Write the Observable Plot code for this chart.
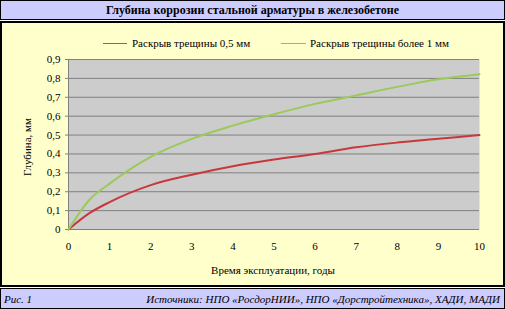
<!DOCTYPE html>
<html>
<head>
<meta charset="utf-8">
<script src="https://cdn.jsdelivr.net/npm/d3@7"></script>
<script src="https://cdn.jsdelivr.net/npm/@observablehq/plot@0.6"></script>
<style>
  html, body { margin: 0; padding: 0; background: #ffffff; }
  body { width: 505px; height: 309px; position: relative; overflow: hidden; font-family: "Liberation Serif", "Times New Roman", serif; }
  #title { position: absolute; left: 0; top: 0; width: 503px; height: 18px; border: 1px solid #000; background: #ccccff;
           font-weight: bold; font-size: 12px; text-align: center; line-height: 19px; color: #000; }
  #main { position: absolute; left: 0; top: 21px; width: 501px; height: 262px; border: 2px solid #000; background: #ffffcc; }
  #footer { position: absolute; left: 0; top: 288px; width: 503px; height: 19px; border: 1px solid #000; background: #ccccff;
            font-style: italic; font-size: 11px; line-height: 20px; color: #000; }
  #footer .l { position: absolute; left: 3px; top: 0; }
  #footer .r { position: absolute; right: 4px; top: 0; }
  #chart { position: absolute; left: 0; top: 0; }
  #chart svg, #chart svg text { font-family: "Liberation Serif", "Times New Roman", serif !important; font-size: 11px; }
  .leg { position: absolute; top: 13px; font-size: 11px; line-height: 14px; white-space: nowrap; color: #000; }
  .sw { position: absolute; height: 0; top: 20px; border-top: 1px solid; }
  #ytitle { position: absolute; left: 25px; top: 124px; transform: translate(-50%, -50%) rotate(-90deg); font-size: 11px; white-space: nowrap; }
  #xtitle { position: absolute; left: 271px; top: 247px; transform: translate(-50%, -50%); font-size: 11px; white-space: nowrap; }
</style>
</head>
<body>
<div id="title">Глубина коррозии стальной арматуры в железобетоне</div>
<div id="main">
  <div id="chart"></div>
  <div class="sw" style="left:101px;width:24px;border-color:#c0504d"></div>
  <div class="leg" style="left:130px">Раскрыв трещины 0,5 мм</div>
  <div class="sw" style="left:279px;width:25px;border-color:#9bbb59"></div>
  <div class="leg" style="left:308px">Раскрыв трещины более 1 мм</div>
  <div id="ytitle">Глубина, мм</div>
  <div id="xtitle">Время эксплуатации, годы</div>
</div>
<div id="footer"><span class="l">Рис. 1</span><span class="r">Источники: НПО «РосдорНИИ», НПО «Дорстройтехника», ХАДИ, МАДИ</span></div>
<script>
const years = [0, 0.5, 1, 2, 3, 4, 5, 6, 7, 8, 9, 10];
const crack05 = [0, 0.085, 0.145, 0.235, 0.29, 0.335, 0.37, 0.40, 0.435, 0.46, 0.48, 0.50];
const crack1 = [0, 0.155, 0.243, 0.385, 0.48, 0.55, 0.61, 0.665, 0.71, 0.755, 0.795, 0.822];
const seriesNames = ["Раскрыв трещины 0,5 мм", "Раскрыв трещины более 1 мм"];
const seriesColors = ["#c8373a", "#9bc95a"];
const xTicks = [0, 1, 2, 3, 4, 5, 6, 7, 8, 9, 10];
const yTicks = [0, 0.1, 0.2, 0.3, 0.4, 0.5, 0.6, 0.7, 0.8, 0.9];
const yTickLabels = ["0", "0,1", "0,2", "0,3", "0,4", "0,5", "0,6", "0,7", "0,8", "0,9"];

const data = [];
years.forEach((x, i) => {
  data.push({year: x, depth: crack05[i], series: seriesNames[0]});
  data.push({year: x, depth: crack1[i], series: seriesNames[1]});
});

const chart = Plot.plot({
  width: 501,
  height: 262,
  marginLeft: 66,
  marginRight: 24,
  marginTop: 36,
  marginBottom: 56,
  style: {background: "transparent", fontFamily: "'Liberation Serif', 'Times New Roman', serif", fontSize: "11px", color: "#000"},
  x: {domain: [0, 10]},
  y: {domain: [0, 0.9]},
  color: {domain: seriesNames, range: seriesColors},
  marks: [
    Plot.frame({fill: "#cccccc", stroke: null}),
    Plot.ruleY(yTicks, {y: d => d, x1: 0, x2: 10, stroke: "#808080", strokeWidth: 1}),
    Plot.axisY({ticks: yTicks, tickFormat: (d, i) => yTickLabels[i], tickSize: 3, tickPadding: 5, stroke: "#808080", label: null, fill: "#000"}),
    Plot.axisX({ticks: xTicks, tickFormat: d => String(d), tickSize: 0, tickPadding: 13, label: null, fill: "#000"}),
    Plot.ruleX([0], {stroke: "#808080"}),
    Plot.line(data, {x: "year", y: "depth", stroke: "series", z: "series", strokeWidth: 2, curve: "monotone-x"})
  ]
});
document.getElementById("chart").appendChild(chart);
</script>
</body>
</html>
